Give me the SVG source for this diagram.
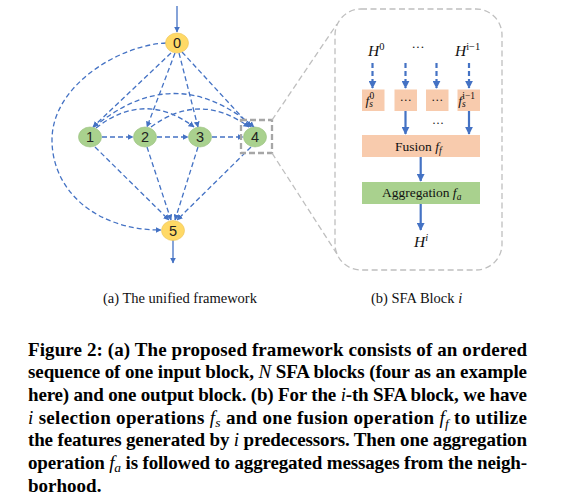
<svg xmlns="http://www.w3.org/2000/svg" width="569" height="499" viewBox="0 0 569 499">
<style>
.dash{fill:none;stroke:#4472C4;stroke-width:1.3;stroke-dasharray:5,3}
.solid{fill:none;stroke:#4472C4;stroke-width:1.3}
.thick{fill:none;stroke:#4472C4;stroke-width:2.2}
.thickdash{fill:none;stroke:#4472C4;stroke-width:2.2;stroke-dasharray:5,3}
.gray{fill:none;stroke:#BFBFBF;stroke-width:1.3;stroke-dasharray:6,3.5}
.yel{fill:#FFD966;stroke:#EBC25A;stroke-width:0.6}
.grn{fill:#A9D18E;stroke:#98BF7E;stroke-width:0.6}
.nl{font-family:"Liberation Sans",Arial,sans-serif;font-size:14.5px;fill:#222;text-anchor:middle}
.peach{fill:#F8CBAD}
.green{fill:#A9D18E}
.serif{font-family:"Liberation Serif","Times New Roman",serif;fill:#111}
.it{font-style:italic}
.cap{font-family:"Liberation Serif","Times New Roman",serif;font-weight:bold;font-size:19px;fill:#000}
.sub{font-family:"Liberation Serif","Times New Roman",serif;font-size:14.5px;fill:#111}
</style>
<defs>
<marker id="ah" viewBox="0 0 10 10" refX="9" refY="5" markerWidth="6" markerHeight="6" markerUnits="userSpaceOnUse" orient="auto"><path d="M0,0 L10,5 L0,10 z" fill="#4472C4"/></marker>
<marker id="ah2" viewBox="0 0 10 10" refX="9" refY="5" markerWidth="8" markerHeight="8" markerUnits="userSpaceOnUse" orient="auto"><path d="M0,0 L10,5 L0,10 z" fill="#4472C4"/></marker>
</defs>

<g id="connectors">
<path class="solid" d="M177,6 L177,32" marker-end="url(#ah)"/>
<path class="solid" d="M173,240 L173,263" marker-end="url(#ah)"/>
<path class="dash" d="M171,53 L93,127" marker-end="url(#ah)"/>
<path class="dash" d="M175,53 L147,127" marker-end="url(#ah)"/>
<path class="dash" d="M179,53 L198,127" marker-end="url(#ah)"/>
<path class="dash" d="M182,52 L251,127" marker-end="url(#ah)"/>
<path class="dash" d="M166,43 C120,45 52,85 52,140 C52,190 95,230 161,230" marker-end="url(#ah)"/>
<path class="dash" d="M102,137 L133,137" marker-end="url(#ah)"/>
<path class="dash" d="M157,137 L188,137" marker-end="url(#ah)"/>
<path class="dash" d="M212,137 L243,137" marker-end="url(#ah)"/>
<path class="dash" d="M96,128 Q145,90 194,127" marker-end="url(#ah)"/>
<path class="dash" d="M151,127 Q200,91 249,127" marker-end="url(#ah)"/>
<path class="dash" d="M94,127 Q175,60 254,127" marker-end="url(#ah)"/>
<path class="dash" d="M95,147 L169,220" marker-end="url(#ah)"/>
<path class="dash" d="M147,147 L171,220" marker-end="url(#ah)"/>
<path class="dash" d="M198,147 L175,220" marker-end="url(#ah)"/>
<path class="dash" d="M251,147 L177,220" marker-end="url(#ah)"/>
<rect x="241" y="120" width="31" height="33" fill="none" stroke="#A6A6A6" stroke-width="2.3" stroke-dasharray="6,3"/>
<path class="gray" d="M272,120 L337,24"/>
<path class="gray" d="M272,153 L337,254"/>
<rect x="335" y="9" width="167" height="261" rx="26" class="gray"/>
<path class="thickdash" d="M372.5,63 L372.5,88" marker-end="url(#ah2)"/>
<path class="thickdash" d="M405.5,63 L405.5,88" marker-end="url(#ah2)"/>
<path class="thickdash" d="M436.5,63 L436.5,88" marker-end="url(#ah2)"/>
<path class="thickdash" d="M469,63 L469,88" marker-end="url(#ah2)"/>
<path class="thick" d="M405.5,111 L405.5,134" marker-end="url(#ah2)"/>
<path class="thick" d="M469,111 L469,134" marker-end="url(#ah2)"/>
<path class="thick" d="M420.7,157 L420.7,181" marker-end="url(#ah2)"/>
<path class="thick" d="M420.7,204 L420.7,230" marker-end="url(#ah2)"/>
</g>

<g id="node0"><ellipse class="yel" cx="177" cy="43" rx="11.5" ry="10"/><text class="nl" x="177" y="48">0</text></g>
<g id="node1"><ellipse class="grn" cx="90" cy="137" rx="11.5" ry="10"/><text class="nl" x="90" y="142">1</text></g>
<g id="node2"><ellipse class="grn" cx="145" cy="137" rx="11.5" ry="10"/><text class="nl" x="145" y="142">2</text></g>
<g id="node3"><ellipse class="grn" cx="200" cy="137" rx="11.5" ry="10"/><text class="nl" x="200" y="142">3</text></g>
<g id="node4"><ellipse class="grn" cx="255" cy="137" rx="11.5" ry="10"/><text class="nl" x="255" y="142">4</text></g>
<g id="node5"><ellipse class="yel" cx="173" cy="230.5" rx="11.5" ry="10"/><text class="nl" x="173" y="235.5">5</text></g>

<g id="inputs">
<text class="serif it" x="368" y="56" font-size="15.5">H<tspan font-style="normal" font-size="10.5" dy="-6">0</tspan></text>
<text class="serif" x="418" y="51" font-size="13" text-anchor="middle">···</text>
<text class="serif it" x="455" y="56" font-size="15.5">H<tspan font-style="normal" font-size="10.5" dy="-6">i−1</tspan></text>
</g>

<g id="sel0"><rect class="peach" x="362" y="89.5" width="22.5" height="21.5"/><text class="serif it" x="365.5" y="104.5" font-size="13.5">f<tspan font-size="9.5" dy="2.5">s</tspan><tspan font-style="normal" font-size="9.5" dx="-3.5" dy="-8.5">0</tspan></text></g>
<g id="sel1"><rect class="peach" x="394.5" y="89.5" width="22.5" height="21.5"/><text class="serif" x="405.7" y="104" font-size="12" text-anchor="middle">···</text></g>
<g id="sel2"><rect class="peach" x="426" y="89.5" width="22.5" height="21.5"/><text class="serif" x="437.2" y="104" font-size="12" text-anchor="middle">···</text></g>
<g id="sel3"><rect class="peach" x="457.5" y="89.5" width="22.5" height="21.5"/><text class="serif it" x="458.3" y="104.5" font-size="13.5">f<tspan font-size="9.5" dy="2.5">s</tspan><tspan font-style="normal" font-size="9.5" dx="-3.5" dy="-8.5">i−1</tspan></text></g>
<text class="serif" x="438" y="127" font-size="12" text-anchor="middle">···</text>

<g id="fusion"><rect class="peach" x="362" y="135" width="118" height="22"/><text class="serif" x="395" y="150.5" font-size="13.5">Fusion <tspan class="it">f<tspan font-size="9.5" dy="3">f</tspan></tspan></text></g>
<g id="aggregation"><rect class="green" x="362" y="182" width="118" height="22"/><text class="serif" x="382" y="197" font-size="13.5">Aggregation <tspan class="it">f<tspan font-size="9.5" dy="3">a</tspan></tspan></text></g>
<g id="output"><text class="serif it" x="414" y="246.5" font-size="15.5">H<tspan font-size="10.5" dy="-6">i</tspan></text></g>

<text class="sub" x="103" y="302.5">(a) The unified framework</text>
<text class="sub" x="371" y="302.5">(b) SFA Block <tspan font-style="italic">i</tspan></text>

<g id="caption">
<text class="cap" x="28" y="355.5" textLength="499" lengthAdjust="spacing">Figure 2: (a) The proposed framework consists of an ordered</text>
<text class="cap" x="28" y="378.3" textLength="499" lengthAdjust="spacing">sequence of one input block, <tspan font-style="italic" font-weight="normal">N</tspan> SFA blocks (four as an example</text>
<text class="cap" x="28" y="401" textLength="499" lengthAdjust="spacing">here) and one output block. (b) For the <tspan font-style="italic" font-weight="normal">i</tspan>-th SFA block, we have</text>
<text class="cap" x="28" y="423.7" textLength="499" lengthAdjust="spacing"><tspan font-style="italic" font-weight="normal">i</tspan> selection operations <tspan font-style="italic" font-weight="normal">f<tspan font-size="13.5" dy="3">s</tspan></tspan><tspan dy="-3"> and one fusion operation </tspan><tspan font-style="italic" font-weight="normal">f<tspan font-size="13.5" dy="4">f</tspan></tspan><tspan dy="-4"> to utilize</tspan></text>
<text class="cap" x="28" y="446.4" textLength="499" lengthAdjust="spacing">the features generated by <tspan font-style="italic" font-weight="normal">i</tspan> predecessors. Then one aggregation</text>
<text class="cap" x="28" y="469.1" textLength="499" lengthAdjust="spacing">operation <tspan font-style="italic" font-weight="normal">f<tspan font-size="13.5" dy="3">a</tspan></tspan><tspan dy="-3"> is followed to aggregated messages from the neigh-</tspan></text>
<text class="cap" x="28" y="491.8">borhood.</text>
</g>
</svg>
